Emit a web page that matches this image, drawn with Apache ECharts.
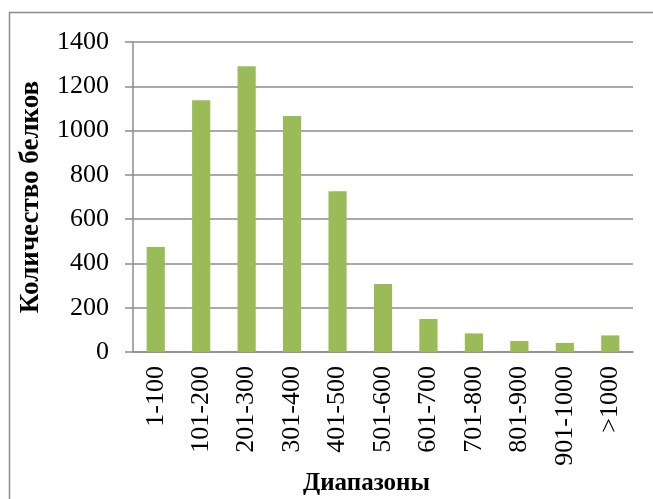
<!DOCTYPE html>
<html>
<head>
<meta charset="utf-8">
<script src="https://cdn.jsdelivr.net/npm/echarts@6/dist/echarts.min.js"></script>
<style>
html,body{margin:0;padding:0;background:#fff;}
#chart{width:653px;height:499px;}
</style>
</head>
<body>
<div id="chart"></div>
<script>
const categories = ['1-100','101-200','201-300','301-400','401-500','501-600','601-700','701-800','801-900','901-1000','>1000'];
const counts = [474, 1137, 1290, 1066, 726, 307, 149, 84, 50, 41, 75];
const yTitle = 'Количество белков';
const xTitle = 'Диапазоны';

const chart = echarts.init(document.getElementById('chart'), null, {renderer:'canvas'});
const font = '"Liberation Serif","Times New Roman",serif';
chart.setOption({
  animation: false,
  backgroundColor: '#fff',
  graphic: [
    {type:'rect', shape:{x:9.5,y:12.5,width:700,height:600}, style:{fill:'none', stroke:'#8c8c8c', lineWidth:1.5}, z:-1},
    {type:'text', left: 303, top: 471, style:{text:xTitle, font:'bold 25px ' + font, fill:'#000'}}
  ],
  grid: {left:133, right:20, top:42, bottom:147, containLabel:false},
  xAxis: {
    type:'category',
    data: categories,
    axisLine:{show:true, lineStyle:{color:'#8c8c8c', width:1.5}},
    axisTick:{show:false},
    axisLabel:{rotate:90, interval:0, margin:14, color:'#000', fontFamily:font, fontSize:26}
  },
  yAxis: {
    type:'value', min:0, max:1400, interval:200,
    name: yTitle, nameLocation:'middle', nameGap:88,
    nameTextStyle:{fontFamily:font, fontSize:27, fontWeight:'bold', color:'#000'},
    axisLine:{show:true, lineStyle:{color:'#8c8c8c', width:1.5}},
    axisTick:{show:true, length:8, lineStyle:{color:'#8c8c8c', width:1.5}},
    axisLabel:{color:'#000', fontFamily:font, fontSize:26, margin:24, formatter: v => String(v)},
    splitLine:{show:true, lineStyle:{color:'#8c8c8c', width:1.5}}
  },
  series: [{
    type:'bar', data: counts, barCategoryGap:'60%',
    itemStyle:{color:'#9BBB59'}
  }]
});
</script>
</body>
</html>
